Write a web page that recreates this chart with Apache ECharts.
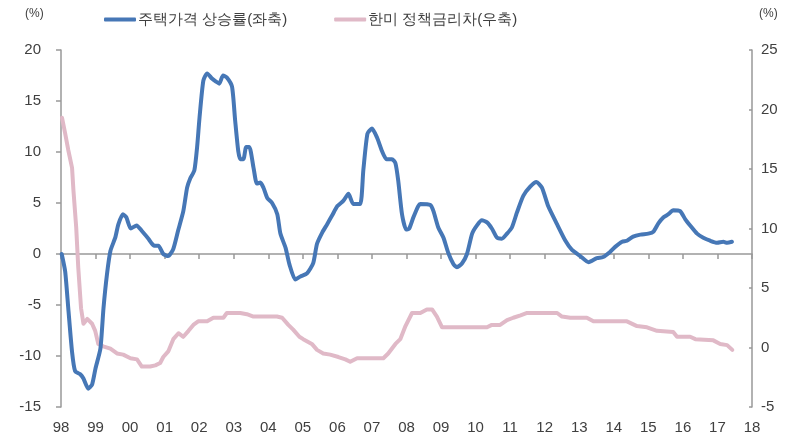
<!DOCTYPE html>
<html>
<head>
<meta charset="utf-8">
<script src="https://cdn.jsdelivr.net/npm/echarts@6/dist/echarts.min.js"></script>
<style>
html,body{margin:0;padding:0;background:#fff;}
#chart{width:799px;height:444px;}
</style>
</head>
<body>
<div id="chart"></div>
<script>
// 주택가격 상승률(좌축), %
var housingYears = [1998.02,1998.12,1998.21,1998.32,1998.41,1998.56,1998.65,1998.79,1998.90,1999.00,1999.14,1999.23,1999.33,1999.43,1999.57,1999.66,1999.79,1999.89,2000.02,2000.19,2000.33,2000.53,2000.70,2000.82,2000.96,2001.10,2001.25,2001.39,2001.54,2001.65,2001.74,2001.86,2001.94,2002.01,2002.12,2002.23,2002.37,2002.49,2002.58,2002.69,2002.80,2002.95,2003.04,2003.13,2003.19,2003.28,2003.36,2003.45,2003.57,2003.67,2003.77,2003.86,2003.97,2004.11,2004.26,2004.35,2004.50,2004.61,2004.78,2004.93,2005.12,2005.30,2005.41,2005.56,2005.70,2005.85,2006.00,2006.17,2006.32,2006.46,2006.66,2006.75,2006.87,2007.00,2007.15,2007.29,2007.42,2007.58,2007.68,2007.76,2007.87,2007.99,2008.08,2008.20,2008.34,2008.40,2008.69,2008.78,2008.92,2009.07,2009.21,2009.36,2009.46,2009.61,2009.75,2009.90,2010.04,2010.18,2010.33,2010.47,2010.62,2010.76,2010.91,2011.05,2011.20,2011.38,2011.58,2011.76,2011.92,2012.10,2012.36,2012.60,2012.79,2013.03,2013.27,2013.51,2013.69,2013.89,2014.04,2014.24,2014.38,2014.56,2014.77,2015.00,2015.15,2015.29,2015.44,2015.58,2015.72,2015.92,2016.07,2016.21,2016.41,2016.59,2016.79,2016.99,2017.17,2017.28,2017.42];
var housingValues = [0,-1.7,-5.3,-9.6,-11.5,-11.8,-12.2,-13.2,-12.8,-11.2,-9.3,-5.3,-2.0,0.3,1.6,2.9,3.9,3.6,2.5,2.8,2.3,1.5,0.8,0.8,0.0,-0.2,0.5,2.3,4.2,6.5,7.4,8.2,10.5,13.4,17.0,17.7,17.2,16.9,16.7,17.5,17.3,16.4,13.1,10.1,9.3,9.3,10.5,10.5,8.5,6.9,7.0,6.5,5.5,5.0,3.9,2.0,0.6,-1.0,-2.5,-2.2,-1.9,-0.9,1.0,2.1,2.9,3.8,4.7,5.2,5.9,4.9,4.9,8.2,11.8,12.3,11.4,10.1,9.3,9.3,8.9,7.2,3.9,2.4,2.5,3.6,4.7,4.9,4.8,4.2,2.6,1.6,0.1,-1.0,-1.3,-0.9,0.0,2.0,2.8,3.3,3.1,2.5,1.6,1.5,2.0,2.6,4.1,5.7,6.6,7.06,6.5,4.7,2.9,1.3,0.4,-0.2,-0.8,-0.4,-0.3,0.2,0.7,1.2,1.3,1.7,1.9,2.0,2.2,3.0,3.6,3.9,4.3,4.2,3.4,2.8,2.0,1.6,1.3,1.1,1.2,1.1,1.2];

// 한미 정책금리차(우축), %p
var rateYears = [1998.03,1998.12,1998.21,1998.32,1998.36,1998.44,1998.50,1998.58,1998.65,1998.76,1998.90,1998.99,1999.08,1999.22,1999.43,1999.62,1999.80,2000.01,2000.20,2000.34,2000.58,2000.73,2000.87,2000.96,2001.11,2001.25,2001.40,2001.54,2001.69,2001.83,2001.97,2002.23,2002.41,2002.70,2002.80,2003.19,2003.38,2003.57,2004.25,2004.40,2004.58,2004.72,2004.90,2005.01,2005.26,2005.41,2005.59,2005.79,2006.03,2006.23,2006.37,2006.57,2007.33,2007.47,2007.68,2007.82,2007.97,2008.16,2008.40,2008.59,2008.74,2008.88,2009.03,2010.33,2010.47,2010.71,2010.91,2011.09,2011.30,2011.49,2012.36,2012.50,2012.74,2013.22,2013.41,2014.38,2014.67,2014.96,2015.25,2015.72,2015.83,2016.21,2016.36,2016.88,2017.08,2017.28,2017.43];
var rateValues = [19.3,18.0,16.6,15.1,13.2,10.1,6.7,3.3,2.0,2.4,2.0,1.4,0.3,0.1,-0.1,-0.5,-0.6,-0.9,-1.0,-1.6,-1.6,-1.5,-1.3,-0.8,-0.3,0.7,1.2,0.9,1.4,1.9,2.2,2.2,2.5,2.5,2.9,2.9,2.8,2.6,2.6,2.5,1.9,1.5,0.9,0.7,0.3,-0.2,-0.5,-0.6,-0.8,-1.0,-1.2,-0.9,-0.9,-0.5,0.3,0.7,1.8,2.9,2.9,3.2,3.2,2.6,1.7,1.7,1.9,1.9,2.3,2.5,2.7,2.9,2.9,2.6,2.5,2.5,2.2,2.2,1.8,1.7,1.4,1.3,0.9,0.9,0.7,0.6,0.3,0.2,-0.2];

var leftTicks = {min: -15, max: 20, step: 5};
var rightTicks = {min: -5, max: 25, step: 5};
var yearRange = {min: 1998, max: 2018};

var seriesNames = ['주택가격 상승률(좌축)', '한미 정책금리차(우축)'];

function pairs(xs, ys) {
  var out = [];
  for (var i = 0; i < xs.length; i++) out.push([xs[i], ys[i]]);
  return out;
}

var TXT = '#404040';
var AX = '#999999';

var chart = echarts.init(document.getElementById('chart'));
chart.setOption({
  animation: false,
  grid: {left: 61, right: 47, top: 50, bottom: 37},
  legend: {
    data: seriesNames,
    left: 99, top: 7,
    icon: 'roundRect',
    itemWidth: 32, itemHeight: 4,
    itemGap: 47,
    textStyle: {fontSize: 15, color: TXT, padding: [0, 0, 0, -3]}
  },
  graphic: [
    {type: 'text', left: 25, top: 8, style: {text: '(%)', fontSize: 12, fill: TXT}},
    {type: 'text', left: 759, top: 8, style: {text: '(%)', fontSize: 12, fill: TXT}}
  ],
  xAxis: [
    {
      type: 'value', min: yearRange.min, max: yearRange.max, interval: 1,
      position: 'bottom',
      axisLine: {show: false, onZero: false},
      axisTick: {show: false},
      splitLine: {show: false},
      axisLabel: {
        margin: 13, fontSize: 15, color: TXT,
        showMinLabel: true, showMaxLabel: true,
        formatter: function (v) { return String(v).slice(2); }
      }
    },
    {
      type: 'value', min: yearRange.min, max: yearRange.max, interval: 1,
      position: 'top',
      axisLine: {show: true, onZero: true, onZeroAxisIndex: 0, lineStyle: {color: AX, width: 1.5}},
      axisTick: {show: true, inside: true, length: 5, lineStyle: {color: AX, width: 1.5}},
      splitLine: {show: false},
      axisLabel: {show: false}
    }
  ],
  yAxis: [
    {
      type: 'value', min: leftTicks.min, max: leftTicks.max, interval: leftTicks.step,
      position: 'left',
      axisLine: {show: true, onZero: false, lineStyle: {color: AX, width: 1.5}},
      axisTick: {show: true, inside: false, length: 5, lineStyle: {color: AX, width: 1.5}},
      splitLine: {show: false},
      axisLabel: {margin: 20, fontSize: 15, color: TXT}
    },
    {
      type: 'value', min: rightTicks.min, max: rightTicks.max, interval: rightTicks.step,
      position: 'right',
      axisLine: {show: true, onZero: false, lineStyle: {color: AX, width: 1.5}},
      axisTick: {show: true, inside: true, length: 3, lineStyle: {color: AX, width: 1.5}},
      splitLine: {show: false},
      axisLabel: {margin: 9, fontSize: 15, color: TXT}
    }
  ],
  series: [
    {
      name: seriesNames[1], type: 'line', xAxisIndex: 0, yAxisIndex: 1,
      data: pairs(rateYears, rateValues),
      showSymbol: false, symbol: 'none',
      lineStyle: {color: '#e0b9c7', width: 4, cap: 'round', join: 'round'},
      itemStyle: {color: '#e0b9c7'}
    },
    {
      name: seriesNames[0], type: 'line', xAxisIndex: 0, yAxisIndex: 0,
      data: pairs(housingYears, housingValues),
      showSymbol: false, symbol: 'none', smooth: 0.2,
      lineStyle: {color: '#4677b6', width: 4, cap: 'round', join: 'round'},
      itemStyle: {color: '#4677b6'}
    }
  ]
});
</script>
</body>
</html>
